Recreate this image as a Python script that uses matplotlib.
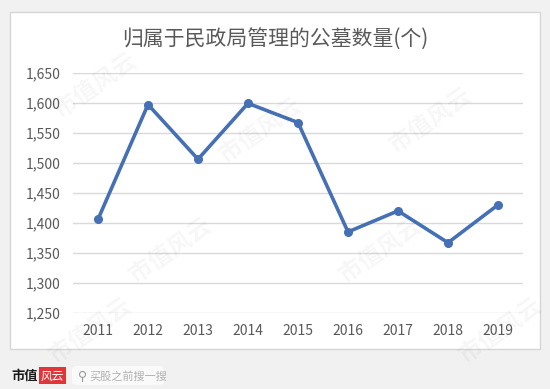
import matplotlib.pyplot as plt
from matplotlib.patches import Rectangle, FancyBboxPatch

plt.rcParams['font.family'] = ['Noto Sans CJK SC', 'DejaVu Sans']

# data
years = ['2011', '2012', '2013', '2014', '2015', '2016', '2017', '2018', '2019']
counts = [1406, 1597, 1506, 1599, 1567, 1385, 1420, 1367, 1430]
yticks = [1250, 1300, 1350, 1400, 1450, 1500, 1550, 1600, 1650]

W, H = 550, 389
fig = plt.figure(figsize=(5.5, 3.89), dpi=100, facecolor='#f1f1f1')

def fx(px):
    return px / W

def fy(py):
    return 1 - py / H

# white chart box
fig.patches.append(Rectangle((fx(10), fy(349)), fx(530), 337 / H, transform=fig.transFigure,
                             facecolor='white', edgecolor='#d6d6d6', linewidth=1, zorder=-5))

ax = fig.add_axes([fx(73), fy(313), fx(450), (313 - 72.7) / H])
ax.set_facecolor('none')
x = range(len(years))
ax.plot(x, counts, color='#4570b5', linewidth=2.6, marker='o', markersize=5.5, zorder=3)

ax.set_xlim(-0.5, len(years) - 0.5)
ax.set_ylim(1250, 1650)
ax.set_yticks(yticks)
ax.set_yticklabels([f'{v:,}' for v in yticks])
ax.set_xticks(list(x))
ax.set_xticklabels(years)
ax.grid(axis='y', color='#d9d9d9', linewidth=1)
ax.set_axisbelow(True)
for s in ax.spines.values():
    s.set_visible(False)
ax.tick_params(length=0, labelsize=10, labelcolor='#595959', pad=9)
ax.tick_params(axis='x', pad=8)

fig.text(0.5, fy(40), '归属于民政局管理的公墓数量(个)', ha='center', va='center',
         fontsize=15, color='#595959')

# watermark
for (wx, wy) in [(fx(95), fy(85)), (fx(260), fy(130)), (fx(430), fy(120)),
                 (fx(170), fy(250)), (fx(380), fy(250)), (fx(90), fy(330)), (fx(500), fy(330))]:
    fig.text(wx, wy, '市值风云', fontsize=17, color='#000000', alpha=0.035,
             rotation=35, ha='center', va='center', fontweight='bold')

# footer
fig.text(fx(11), fy(376), '市值', fontsize=9.5, fontweight='bold', color='#1a1a1a',
         ha='left', va='center')
fig.patches.append(Rectangle((fx(39), fy(384)), fx(27), 17 / H, transform=fig.transFigure,
                             facecolor='#e0363a', edgecolor='none'))
fig.text(fx(52.5), fy(376), '风云', fontsize=8.5, color='white', ha='center', va='center',
         style='italic')
fig.patches.append(FancyBboxPatch((fx(72), fy(385)), fx(92), 19 / H,
                                  boxstyle='round,pad=0,rounding_size=0.01',
                                  transform=fig.transFigure, facecolor='#fafafa',
                                  edgecolor='none'))
fig.text(fx(78), fy(376), '⚲', fontsize=9, color='#9a9a9a', ha='left', va='center',
         family=['DejaVu Sans'])
fig.text(fx(89), fy(376), '买股之前搜一搜', fontsize=8, color='#b0b0b0', ha='left', va='center')

fig.savefig('out.png', dpi=100, facecolor=fig.get_facecolor())
